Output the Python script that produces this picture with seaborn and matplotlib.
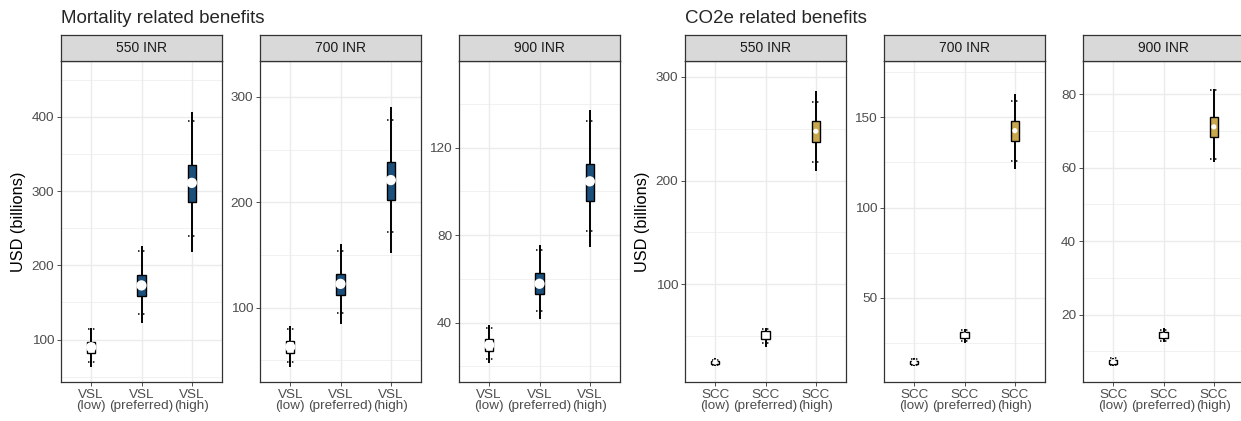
import numpy as np
import pandas as pd
import matplotlib
matplotlib.use("Agg")
import matplotlib.pyplot as plt
import seaborn as sns

# ── Data ─────────────────────────────────────────────────────────────────────

prices = ["550 INR", "700 INR", "900 INR"]
vsl_labels = ["VSL\n(low)", "VSL\n(preferred)", "VSL\n(high)"]
scc_labels = ["SCC\n(low)", "SCC\n(preferred)", "SCC\n(high)"]

# one row per price, one entry per category
vsl_whisker_lo = [[63.7, 122.0, 217.5], [43.4, 84.5, 152.0], [21.5, 41.5, 74.7]]
vsl_q1         = [[82.5, 158.8, 285.8], [57.3, 111.8, 202.0], [27.2, 53.0, 95.8]]
vsl_mean       = [[89.8, 173.0, 311.0], [62.7, 122.5, 221.0], [29.8, 57.8, 104.6]]
vsl_q3         = [[97.3, 186.5, 335.0], [68.4, 132.0, 238.0], [32.4, 62.5, 112.7]]
vsl_whisker_hi = [[116.0, 226.0, 405.9], [82.6, 160.6, 290.0], [39.0, 75.7, 137.0]]
vsl_p_lo       = [[69.6, 134.0, 240.0], [48.7, 95.0, 171.5], [23.4, 45.5, 82.1]]
vsl_p_hi       = [[114.0, 219.7, 394.0], [79.5, 154.0, 277.8], [37.7, 73.4, 132.3]]

scc_whisker_lo = [[21.5, 39.5, 209.0], [12.0, 25.0, 121.2], [6.1, 12.5, 61.5]]
scc_q1         = [[23.5, 47.0, 237.6], [13.3, 27.5, 137.0], [6.7, 13.6, 68.4]]
scc_mean       = [[25.0, 51.0, 247.6], [14.2, 29.3, 142.6], [7.2, 14.4, 71.1]]
scc_q3         = [[26.5, 55.0, 257.9], [15.1, 31.0, 148.0], [7.7, 15.2, 73.8]]
scc_whisker_hi = [[28.5, 58.0, 286.8], [16.4, 32.8, 163.0], [8.3, 16.3, 81.3]]
scc_p_lo       = [[22.5, 43.0, 217.8], [12.5, 26.0, 126.0], [6.3, 12.9, 62.4]]
scc_p_hi       = [[27.5, 57.0, 276.0], [15.9, 32.0, 159.2], [8.1, 15.9, 81.0]]

vsl_fill = ["white", "#1B4F7C", "#1B4F7C"]
scc_fill = ["white", "white", "#C9A74C"]

# axis settings per panel
vsl_ylim = [(43, 475), (29.4, 334), (12.9, 159.6)]
vsl_major = [[100, 200, 300, 400], [100, 200, 300], [40, 80, 120]]
vsl_minor = [[50, 150, 250, 350, 450], [50, 150, 250], [20, 60, 100, 140]]
scc_ylim = [(5.8, 315.4), (3.3, 181.2), (1.7, 89)]
scc_major = [[100, 200, 300], [50, 100, 150], [20, 40, 60, 80]]
scc_minor = [[50, 150, 250], [25, 75, 125, 175], [10, 30, 50, 70]]

# ── Style ────────────────────────────────────────────────────────────────────

sns.set_theme(style="white")
plt.rcParams["font.family"] = ["Liberation Sans", "DejaVu Sans"]

W, H = 1241, 421
fig = plt.figure(figsize=(W / 100, H / 100), dpi=100)

panel_left = [61, 260, 459, 685, 884, 1083]
panel_w = 161
plot_top, plot_bot = 61, 382
strip_top = 35


def fx(px):
    return px / W


def fy(py):
    return 1 - py / H


def draw_panel(left, labels, strip, wlo, q1, mean, q3, whi, plo, phi,
               fills, ylim, major, minor, ylabel, point_size):
    ax = fig.add_axes([fx(left), fy(plot_bot), fx(panel_w), (plot_bot - plot_top) / H])
    sax = fig.add_axes([fx(left), fy(plot_top), fx(panel_w), (plot_top - strip_top) / H])

    # five stats per category -> boxplot with whiskers at min/max reproduces them
    df = pd.DataFrame({
        "cat": np.repeat(labels, 5),
        "val": np.ravel([[a, b, c, d, e] for a, b, c, d, e in zip(wlo, q1, mean, q3, whi)]),
    })
    sns.boxplot(data=df, x="cat", y="val", hue="cat", order=labels, hue_order=labels,
                palette=fills, saturation=1, legend=False, whis=(0, 100), width=0.17,
                linecolor="black", linewidth=1.0, showcaps=False, fliersize=0,
                whiskerprops=dict(linewidth=1.4, color="black"),
                medianprops=dict(linewidth=0), ax=ax, zorder=3)

    xs = np.arange(len(labels))
    ax.hlines(plo, xs - 0.07, xs + 0.07, colors="black", linewidth=1.1,
              linestyles=(0, (1, 2.2)), zorder=4)
    ax.hlines(phi, xs - 0.07, xs + 0.07, colors="black", linewidth=1.1,
              linestyles=(0, (1, 2.2)), zorder=4)

    pts = pd.DataFrame({"cat": labels, "mean": mean})
    sns.scatterplot(data=pts, x="cat", y="mean", color="white", s=point_size,
                    edgecolor="none", ax=ax, zorder=5)

    ax.set_xlim(-0.6, 2.6)
    ax.set_ylim(*ylim)
    ax.set_yticks(major)
    ax.set_yticks(minor, minor=True)
    ax.grid(True, which="major", color="#EBEBEB", linewidth=1.0, zorder=0)
    ax.grid(True, which="minor", axis="y", color="#EBEBEB", linewidth=0.5, zorder=0)
    ax.set_axisbelow(True)
    ax.set_facecolor("white")
    for sp in ax.spines.values():
        sp.set_color("#333333")
        sp.set_linewidth(0.9)
    ax.tick_params(axis="both", which="major", length=2.75, width=0.6, color="#333333",
                   labelcolor="#4D4D4D", labelsize=9.7, pad=2.2, bottom=True, left=True)
    ax.tick_params(axis="both", which="minor", length=0)
    ax.set_xticks(xs)
    ax.set_xticklabels(labels, linespacing=0.95)
    ax.set_xlabel("")
    if ylabel:
        ax.set_ylabel(ylabel, fontsize=11.8, color="black", labelpad=4)
    else:
        ax.set_ylabel("")

    sax.set_facecolor("#D9D9D9")
    sax.set_xticks([])
    sax.set_yticks([])
    for sp in sax.spines.values():
        sp.set_color("#333333")
        sp.set_linewidth(0.9)
    sax.text(0.5, 0.5, strip, ha="center", va="center", fontsize=10, color="#1A1A1A",
             transform=sax.transAxes)
    return ax


for i, price in enumerate(prices):
    draw_panel(panel_left[i], vsl_labels, price,
               vsl_whisker_lo[i], vsl_q1[i], vsl_mean[i], vsl_q3[i], vsl_whisker_hi[i],
               vsl_p_lo[i], vsl_p_hi[i], vsl_fill, vsl_ylim[i], vsl_major[i], vsl_minor[i],
               "USD (billions)" if i == 0 else None, 55)
    draw_panel(panel_left[i + 3], scc_labels, price,
               scc_whisker_lo[i], scc_q1[i], scc_mean[i], scc_q3[i], scc_whisker_hi[i],
               scc_p_lo[i], scc_p_hi[i], scc_fill, scc_ylim[i], scc_major[i], scc_minor[i],
               "USD (billions)" if i == 0 else None, 14)

fig.text(fx(61), fy(23), "Mortality related benefits", fontsize=13.5, va="baseline", ha="left")
fig.text(fx(685), fy(23), "CO2e related benefits", fontsize=13.5, va="baseline", ha="left")

fig.savefig("out.png", dpi=100)
